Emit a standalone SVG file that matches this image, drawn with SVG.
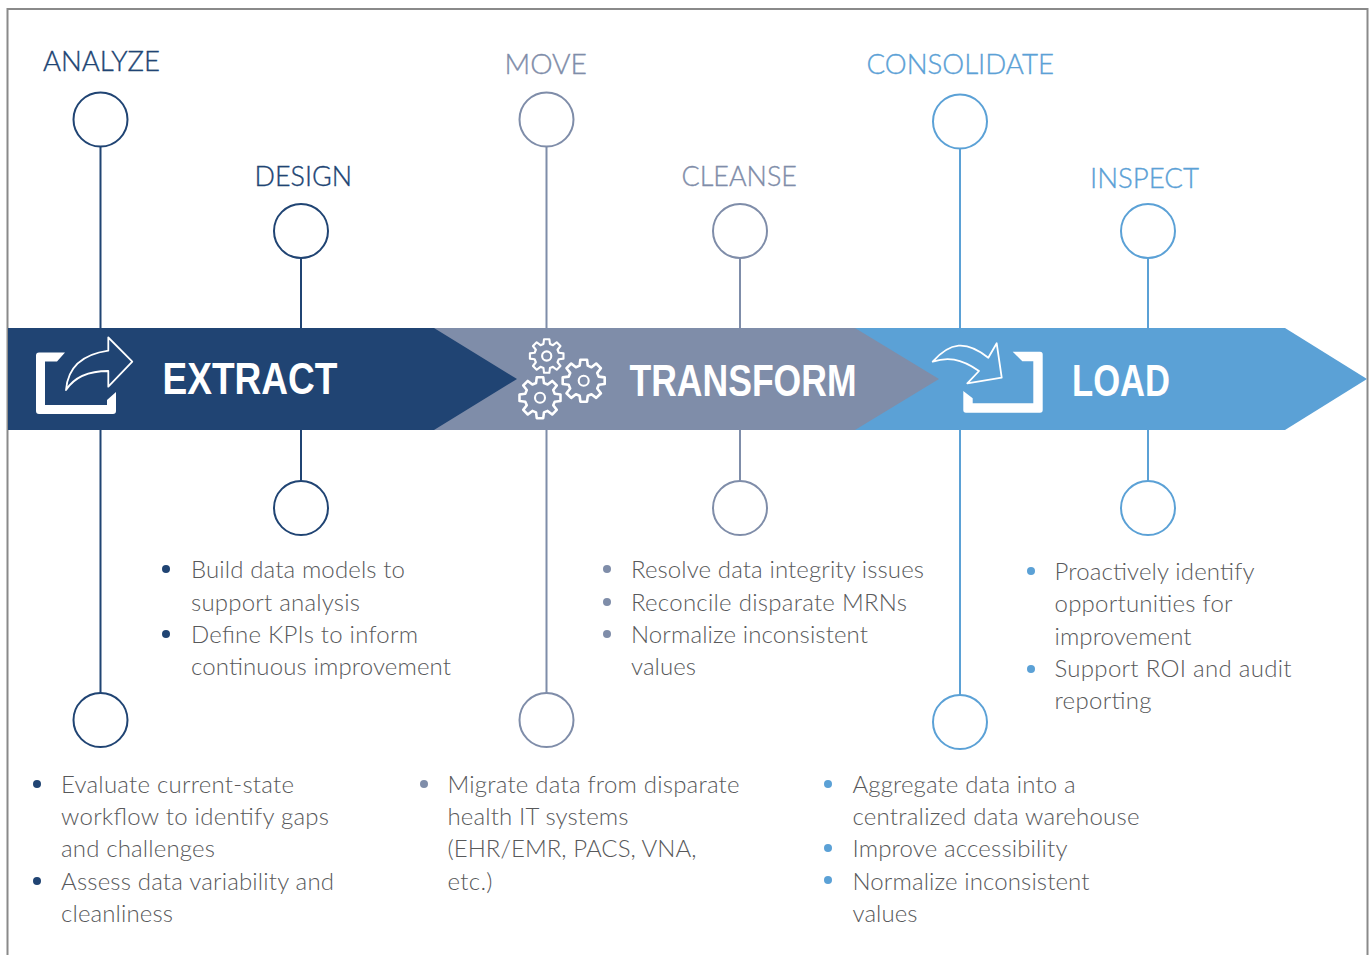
<svg xmlns="http://www.w3.org/2000/svg" xmlns:xlink="http://www.w3.org/1999/xlink" width="1369" height="955" viewBox="0 0 1369 955">
<style>
.c1{stroke:#204473}.c2{stroke:#7f8da9}.c3{stroke:#5ba1d6}
.n{fill:#fff;stroke-width:2}
.l{fill:none;stroke-width:2}
.h{font:300 28px Lato,"Open Sans",sans-serif;stroke-width:.35}
.t1{fill:#204473;stroke:#204473}.t2{fill:#7f8da9;stroke:#7f8da9}.t3{fill:#5ba1d6;stroke:#5ba1d6}
.b{font:300 24px Lato,"Open Sans",sans-serif;fill:#58595b}
.k{font:700 44px "Liberation Sans",Arial,sans-serif;fill:#fff}
.d1{fill:#204473}.d2{fill:#7f8da9}.d3{fill:#5ba1d6}
.w{fill:#fff}
.o{fill:none;stroke:#fff;stroke-width:1.8;stroke-linejoin:round}
.g{fill:none;stroke:#fff;stroke-width:2.1;stroke-linejoin:round}
</style>
<defs>
<path id="gear" d="M12.07-3.24L16.8-2.66L16.8 2.66L12.07 3.24L10.83 6.24L13.76 10L10 13.76L6.24 10.83L3.24 12.07L2.66 16.8L-2.66 16.8L-3.24 12.07L-6.24 10.83L-10 13.76L-13.76 10L-10.83 6.24L-12.07 3.24L-16.8 2.66L-16.8-2.66L-12.07-3.24L-10.83-6.24L-13.76-10L-10-13.76L-6.24-10.83L-3.24-12.07L-2.66-16.8L2.66-16.8L3.24-12.07L6.24-10.83L10-13.76L13.76-10L10.83-6.24Z"/>
</defs>
<rect width="1369" height="955" fill="#fff"/>
<rect id="frame" x="7.5" y="9" width="1360" height="970" fill="none" stroke="#8a8a8a" stroke-width="2"/>
<g id="connectors">
<path class="l c1" d="M100.5 146V693M301 258V481"/>
<path class="l c2" d="M546.5 146V693M740 258V481"/>
<path class="l c3" d="M960 148V695M1148 258V481"/>
</g>
<g id="load"><polygon class="d3" points="855,328 1285,328 1367,379 1285,430 855,430"/>
<path class="w" d="M1012.7 351.7H1040Q1042.7 351.7 1042.7 354.3V410Q1042.7 412.7 1040 412.7H966Q963.3 412.7 963.3 410V391L972.7 398.3V403.3H1033.3V361.3H1022.3Z"/>
<path class="o" d="M932.7 361.7C950 342 966 340 988.3 357.7L996.7 343.3L1001.7 377.7L967.3 383.3L979 371C960 358 947 357 932.7 361.7Z"/>
<text class="k" x="1072" y="395.5" textLength="98" lengthAdjust="spacingAndGlyphs">LOAD</text></g>
<g id="transform"><polygon class="d2" points="434,328 855,328 939,379 855,430 434,430"/>
<g class="g"><use xlink:href="#gear" href="#gear" transform="translate(546.7 356)"/><circle cx="546.7" cy="356" r="4.6"/>
<use xlink:href="#gear" href="#gear" transform="translate(583.7 380.7) scale(1.25)"/><circle cx="583.7" cy="380.7" r="5"/>
<use xlink:href="#gear" href="#gear" transform="translate(540 397.7) scale(1.22)"/><circle cx="540" cy="397.7" r="5"/></g>
<text class="k" x="629.5" y="395.5" textLength="227" lengthAdjust="spacingAndGlyphs">TRANSFORM</text></g>
<g id="extract"><polygon class="d1" points="8,328 434,328 517,379 434,430 8,430"/>
<path class="w" d="M65 352.5H39Q36 352.5 36 355.5V411Q36 414 39 414H113Q116 414 116 411V392L107 400V405H45V361.5H57Z"/>
<path class="o" d="M132.3 361.7L108.3 337.5V350.7C85 354 68 365 66 390C75 376 90 371 108.3 371V386.7Z"/>
<text class="k" x="162.5" y="393.5" textLength="175" lengthAdjust="spacingAndGlyphs">EXTRACT</text></g>
<g id="analyze"><text class="h t1" x="43" y="71" textLength="117" lengthAdjust="spacingAndGlyphs">ANALYZE</text>
<circle class="n c1" cx="100.5" cy="119.5" r="27"/><circle class="n c1" cx="100.5" cy="720" r="27"/>
<circle class="d1" cx="37" cy="784" r="4"/><circle class="d1" cx="37" cy="881" r="4"/>
<text class="b"><tspan x="61" y="793" textLength="233">Evaluate current-state</tspan><tspan x="61" y="825" textLength="268">workflow to identify gaps</tspan><tspan x="61" y="857" textLength="154">and challenges</tspan><tspan x="61" y="890" textLength="273">Assess data variability and</tspan><tspan x="61" y="922" textLength="112">cleanliness</tspan></text></g>
<g id="design"><text class="h t1" x="254.5" y="186" textLength="97.5" lengthAdjust="spacingAndGlyphs">DESIGN</text>
<circle class="n c1" cx="301" cy="231" r="27"/><circle class="n c1" cx="301" cy="508" r="27"/>
<circle class="d1" cx="166" cy="569" r="4"/><circle class="d1" cx="166" cy="634" r="4"/>
<text class="b"><tspan x="191" y="578" textLength="214">Build data models to</tspan><tspan x="191" y="611" textLength="169">support analysis</tspan><tspan x="191" y="643" textLength="227">Define KPIs to inform</tspan><tspan x="191" y="675" textLength="260">continuous improvement</tspan></text></g>
<g id="move"><text class="h t2" x="504.5" y="74" textLength="82.5" lengthAdjust="spacingAndGlyphs">MOVE</text>
<circle class="n c2" cx="546.5" cy="119.5" r="27"/><circle class="n c2" cx="546.5" cy="720" r="27"/>
<circle class="d2" cx="424" cy="784" r="4"/>
<text class="b"><tspan x="447.5" y="793" textLength="292">Migrate data from disparate</tspan><tspan x="447.5" y="825" textLength="181">health IT systems</tspan><tspan x="447.5" y="857" textLength="249">(EHR/EMR, PACS, VNA,</tspan><tspan x="447.5" y="890" textLength="45">etc.)</tspan></text></g>
<g id="cleanse"><text class="h t2" x="681.5" y="186" textLength="115.5" lengthAdjust="spacingAndGlyphs">CLEANSE</text>
<circle class="n c2" cx="740" cy="231" r="27"/><circle class="n c2" cx="740" cy="508" r="27"/>
<circle class="d2" cx="607" cy="569" r="4"/><circle class="d2" cx="607" cy="602" r="4"/><circle class="d2" cx="607" cy="634" r="4"/>
<text class="b"><tspan x="631" y="578" textLength="293">Resolve data integrity issues</tspan><tspan x="631" y="611" textLength="276">Reconcile disparate MRNs</tspan><tspan x="631" y="643" textLength="237">Normalize inconsistent</tspan><tspan x="631" y="675" textLength="65">values</tspan></text></g>
<g id="consolidate"><text class="h t3" x="866.5" y="74" textLength="187.5" lengthAdjust="spacingAndGlyphs">CONSOLIDATE</text>
<circle class="n c3" cx="960" cy="121.5" r="27"/><circle class="n c3" cx="960" cy="722" r="27"/>
<circle class="d3" cx="828" cy="784" r="4"/><circle class="d3" cx="828" cy="848" r="4"/><circle class="d3" cx="828" cy="880" r="4"/>
<text class="b"><tspan x="852.5" y="793" textLength="223">Aggregate data into a</tspan><tspan x="852.5" y="825" textLength="287">centralized data warehouse</tspan><tspan x="852.5" y="857" textLength="215">Improve accessibility</tspan><tspan x="852.5" y="890" textLength="237">Normalize inconsistent</tspan><tspan x="852.5" y="922" textLength="65">values</tspan></text></g>
<g id="inspect"><text class="h t3" x="1090" y="188" textLength="109" lengthAdjust="spacingAndGlyphs">INSPECT</text>
<circle class="n c3" cx="1148" cy="231" r="27"/><circle class="n c3" cx="1148" cy="508" r="27"/>
<circle class="d3" cx="1031" cy="571" r="4"/><circle class="d3" cx="1031" cy="669" r="4"/>
<text class="b"><tspan x="1054.5" y="580" textLength="200">Proactively identify</tspan><tspan x="1054.5" y="612" textLength="178">opportunities for</tspan><tspan x="1054.5" y="645" textLength="137">improvement</tspan><tspan x="1054.5" y="677" textLength="237">Support ROI and audit</tspan><tspan x="1054.5" y="709" textLength="97">reporting</tspan></text></g>
</svg>
